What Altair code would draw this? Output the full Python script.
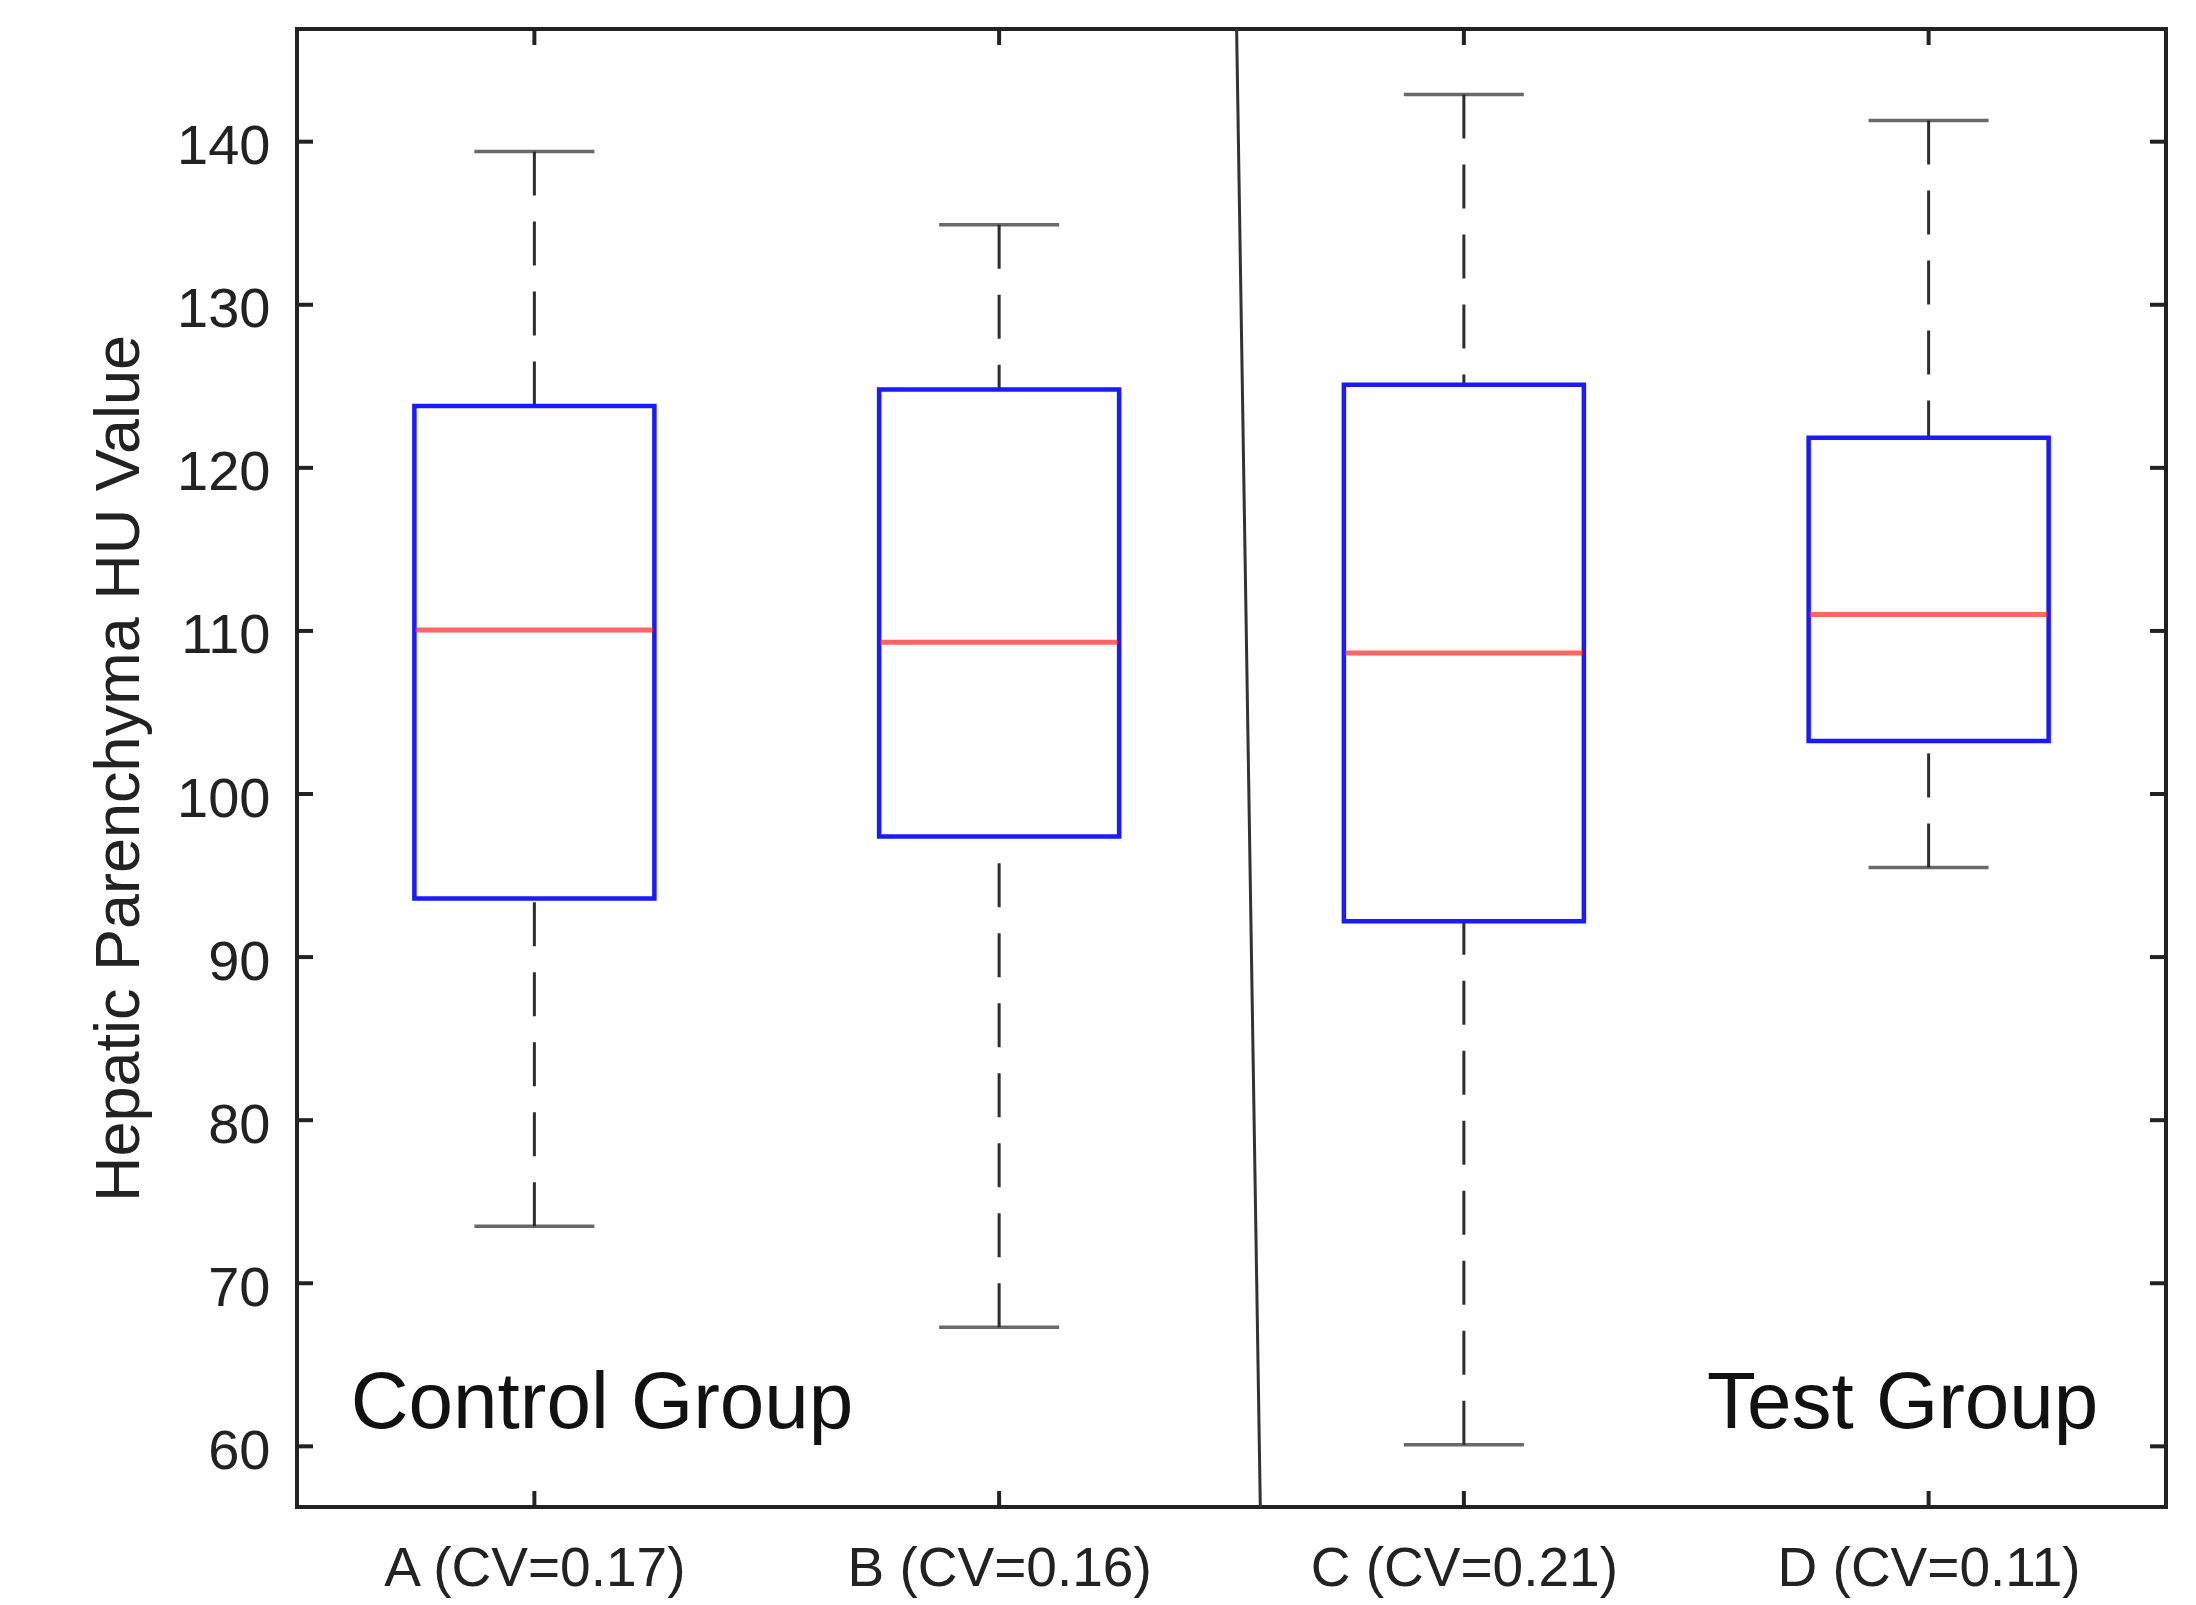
import altair as alt
import pandas as pd

# ---- data ----
categories = ["A (CV=0.17)", "B (CV=0.16)", "C (CV=0.21)", "D (CV=0.11)"]
positions = [1, 2, 3, 4]
whisker_low = [73.5, 67.3, 60.1, 95.5]
q1 = [93.6, 97.4, 92.2, 103.25]
median = [110.05, 109.3, 108.65, 111.0]
q3 = [123.8, 124.8, 125.1, 121.85]
whisker_high = [139.4, 134.9, 142.9, 141.3]

y_ticks = [60, 70, 80, 90, 100, 110, 120, 130, 140]

control_label = "Control Group"
control_xy = [0.605, 61.1]
test_label = "Test Group"
test_xy = [4.365, 61.1]

divider_x = [2.511, 2.562]
divider_y = [146.91, 56.28]

# ---- layout ----
W, H = 1869, 1478
X_DOMAIN = [0.5, 4.5]
Y_DOMAIN = [56.28, 146.91]
FONT = "Liberation Sans"
INK = "#222222"

boxes = pd.DataFrame({
    "pos": positions, "cat": categories, "lo": whisker_low, "q1": q1,
    "med": median, "q3": q3, "hi": whisker_high,
})

xscale = alt.Scale(domain=X_DOMAIN, nice=False, zero=False)
yscale = alt.Scale(domain=Y_DOMAIN, nice=False, zero=False)

label_expr = "[" + ",".join("'" + c + "'" for c in categories) + "][datum.value - 1]"

xaxis = alt.Axis(
    values=positions, labelExpr=label_expr, ticks=False, tickSize=0, domain=False,
    grid=False, labelFont=FONT, labelFontSize=55, labelColor=INK, labelPadding=35,
    labelAlign="center", labelLimit=0, title=None, orient="bottom",
)
yaxis = alt.Axis(
    values=y_ticks, ticks=False, tickSize=0, domain=False, grid=False,
    labelFont=FONT, labelFontSize=56, labelColor=INK, labelPadding=27, labelOffset=5,
    labelLimit=0,
    title="Hepatic Parenchyma HU Value", titleFont=FONT, titleFontSize=63,
    titleFontWeight="normal", titleColor=INK, titleAngle=270, titleX=-159,
    titleY=H / 2, titleAlign="center", titleBaseline="alphabetic", titleLimit=0,
    orient="left",
)


def X(field):
    return alt.X(field, type="quantitative", scale=xscale, axis=xaxis)


def Y(field):
    return alt.Y(field, type="quantitative", scale=yscale, axis=yaxis)


base = alt.Chart(boxes)

whisk_style = dict(color="#2e2e2e", strokeWidth=3, strokeDash=[44, 26])
upper = base.mark_rule(**whisk_style).encode(x=X("pos"), y=Y("hi"), y2="q3")
lower = base.mark_rule(**whisk_style).encode(x=X("pos"), y=Y("lo"), y2="q1")

cap_style = dict(orient="horizontal", size=120, thickness=3.5, color="#2a2a2a")
cap_hi = base.mark_tick(**cap_style).encode(x=X("pos"), y=Y("hi"))
cap_lo = base.mark_tick(**cap_style).encode(x=X("pos"), y=Y("lo"))

box = base.mark_bar(size=240, fill="white", stroke="#1a1aff", strokeWidth=4.5).encode(
    x=X("pos"), y=Y("q1"), y2="q3"
)
med = base.mark_tick(orient="horizontal", size=238, thickness=5, color="#ff2424").encode(
    x=X("pos"), y=Y("med")
)

divider_df = pd.DataFrame({"x1": [divider_x[0]], "x2": [divider_x[1]],
                           "y1": [divider_y[0]], "y2": [divider_y[1]]})
divider = alt.Chart(divider_df).mark_rule(color="#333333", strokeWidth=3).encode(
    x=X("x1"), x2="x2", y=Y("y1"), y2="y2"
)

ctrl_df = pd.DataFrame({"x": [control_xy[0]], "y": [control_xy[1]], "t": [control_label]})
test_df = pd.DataFrame({"x": [test_xy[0]], "y": [test_xy[1]], "t": [test_label]})
txt_style = dict(font=FONT, fontSize=80, color="#111111", baseline="alphabetic")
ctrl_text = alt.Chart(ctrl_df).mark_text(align="left", **txt_style).encode(
    x=X("x"), y=Y("y"), text="t"
)
test_text = alt.Chart(test_df).mark_text(align="right", **txt_style).encode(
    x=X("x"), y=Y("y"), text="t"
)

# inside ticks on all four sides
yt = pd.DataFrame({"v": y_ticks})
xt = pd.DataFrame({"p": positions})
TL = 16
tick_style = dict(color=INK, strokeWidth=4)
ytick_l = alt.Chart(yt).mark_rule(**tick_style).encode(
    y=Y("v"), x=alt.value(0), x2=alt.value(TL))
ytick_r = alt.Chart(yt).mark_rule(**tick_style).encode(
    y=Y("v"), x=alt.value(W - TL), x2=alt.value(W))
xtick_b = alt.Chart(xt).mark_rule(**tick_style).encode(
    x=X("p"), y=alt.value(H - TL), y2=alt.value(H))
xtick_t = alt.Chart(xt).mark_rule(**tick_style).encode(
    x=X("p"), y=alt.value(0), y2=alt.value(TL))

chart = alt.layer(
    upper, lower, cap_hi, cap_lo, box, med, divider, ctrl_text, test_text,
    ytick_l, ytick_r, xtick_b, xtick_t,
).properties(
    width=W, height=H,
    autosize=alt.AutoSizeParams(type="none"),
    padding={"left": 289, "top": 21, "right": 5, "bottom": 91},
    background="white",
).configure_view(
    stroke=INK, strokeWidth=4
)

chart.save("out.html", embed_options={"renderer": "svg", "actions": False})
